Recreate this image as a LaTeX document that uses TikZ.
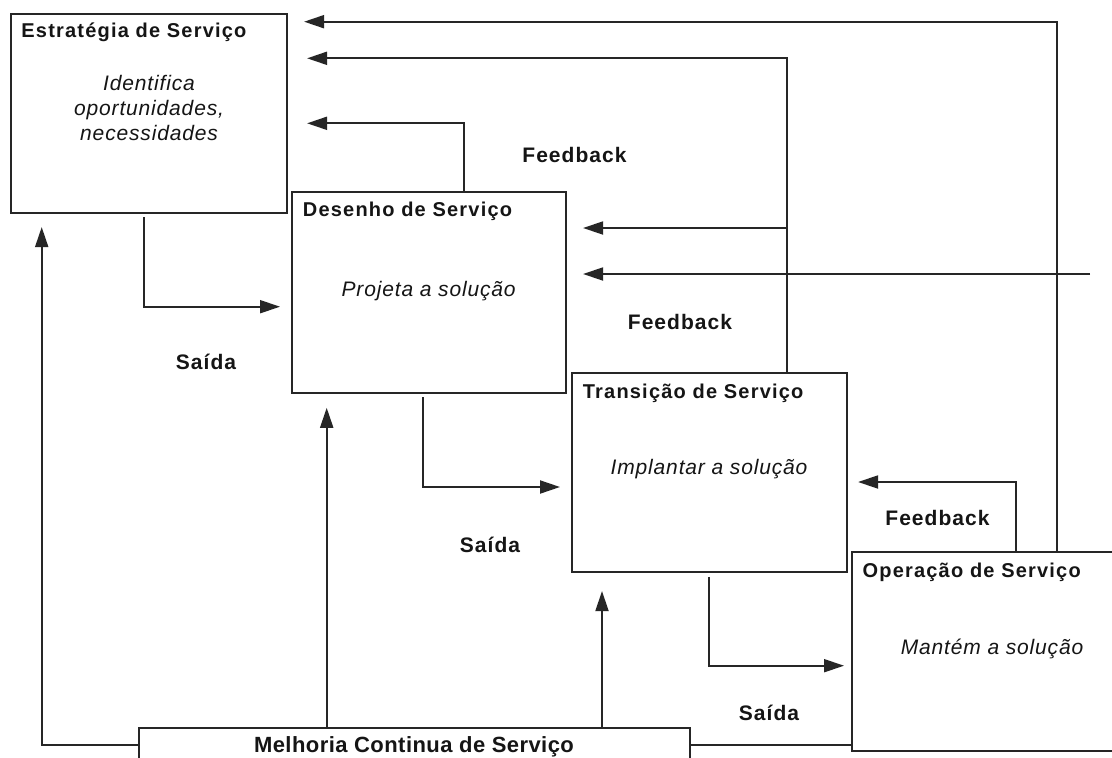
\documentclass[tikz,border=0pt]{standalone}
\usepackage{fontspec}
\setmainfont{Liberation Sans}
\newfontfamily\titlefam{Liberation Sans}[LetterSpace=6]
\newfontfamily\bodyfam{Liberation Sans}[LetterSpace=4]
\newfontfamily\labelfam{Liberation Sans}[LetterSpace=5]
\newfontfamily\improvefam{Liberation Sans}[LetterSpace=2]
\usetikzlibrary{arrows.meta,calc}
\definecolor{ink}{HTML}{262626}
\definecolor{txt}{HTML}{151515}

\begin{document}
\begin{tikzpicture}[x=1pt,y=-1pt,
  line/.style={draw=ink, line width=2pt},
  arr/.style={line, -{Triangle[length=20pt,width=13pt]}},
  box/.style={draw=ink, line width=2.1pt, fill=white, rectangle, inner sep=0pt, anchor=north west},
  boxtitle/.style={anchor=base west, inner sep=0pt, text=txt,
    font=\titlefam\bfseries\fontsize{20}{24}\selectfont},
  boxbody/.style={anchor=base, inner sep=0pt, text=txt,
    font=\bodyfam\itshape\fontsize{21}{25}\selectfont},
  flowlabel/.style={anchor=base, inner sep=0pt, text=txt,
    font=\labelfam\bfseries\fontsize{21}{25}\selectfont}]

\path[use as bounding box, fill=white] (0,0) rectangle (1112,758);
\clip (0,0) rectangle (1112,758);

% process boxes
\node[box, minimum width=276pt,   minimum height=199.3pt] (est) at (10,12.7) {};
\node[box, minimum width=273.8pt, minimum height=200.7pt] (des) at (290.7,191) {};
\node[box, minimum width=275pt,   minimum height=199.3pt] (tra) at (570.5,371.7) {};
\node[box, minimum width=280pt,   minimum height=199.3pt] (ope) at (851,550.7) {};
\node[box, minimum width=551pt,   minimum height=60pt]    (mel) at (138,726.7) {};

% box titles
\node[boxtitle] (est-t) at ($(est.north west)+(11.2,24.5)$) {Estratégia de Serviço};
\node[boxtitle] (des-t) at ($(des.north west)+(12,25.5)$) {Desenho de Serviço};
\node[boxtitle] (tra-t) at ($(tra.north west)+(12.2,26.5)$) {Transição de Serviço};
\node[boxtitle] (ope-t) at ($(ope.north west)+(11.4,26.3)$) {Operação de Serviço};

% box descriptions
\node[boxbody, anchor=north, align=center] (est-b) at ($(est.north)+(0,62)$)
  {Identifica\\oportunidades,\\necessidades};
\node[boxbody] (des-b) at ($(des.center)+(0,3.6)$) {Projeta a solução};
\node[boxbody] (tra-b) at ($(tra.center)+(0,2)$) {Implantar a solução};
\node[boxbody] (ope-b) at ($(ope.center)+(0,3)$) {Mantém a solução};
\node[flowlabel, font=\improvefam\bfseries\fontsize{22}{26}\selectfont] (mel-t) at (414,752.7)
  {Melhoria Continua de Serviço};

% flow labels
\node[flowlabel] (fb1) at (574.5,162.5) {Feedback};
\node[flowlabel] (fb2) at (680,329) {Feedback};
\node[flowlabel] (fb3) at (937.5,525.7) {Feedback};
\node[flowlabel] (sa1) at (206,369.5) {Saída};
\node[flowlabel] (sa2) at (490,552) {Saída};
\node[flowlabel] (sa3) at (769,720) {Saída};

% feedback towards the strategy box
\draw[arr] ($(ope.north west)+(206,0)$)   |- ($(est.north east)+(16,9)$);
\draw[arr] ($(tra.north west)+(216.2,0)$) |- ($(est.north east)+(19,45.6)$);
\draw[arr] ($(des.north west)+(173.3,0)$) |- ($(est.north east)+(19,110.6)$);

% feedback towards the design box
\coordinate (fbEnd) at (1090,274);
\draw[arr] ($(tra.north west)+(216.2,-143.7)$) -- ($(des.north east)+(16.5,37)$);
\draw[arr] (fbEnd) -- ($(des.north east |- fbEnd)+(16.5,0)$);

% feedback towards the transition box
\draw[arr] ($(ope.north west)+(164.5,0)$) |- ($(tra.north east)+(10.5,110.3)$);

% outputs
\draw[arr] ($(est.south west)+(134,3)$)     |- ($(des.north west)+(-10.7,115.7)$);
\draw[arr] ($(des.south west)+(132.6,3.3)$) |- ($(tra.north west)+(-10.5,115.3)$);
\draw[arr] ($(tra.south west)+(138.1,3.7)$) |- ($(ope.north west)+(-7,115)$);

% continual improvement
\draw[arr] ($(mel.north west)+(0,18)$) -| ($(est.south west)+(31.7,13)$);
\draw[arr] ($(mel.north west)+(188.7,0)$) -- ($(des.south west)+(36,14)$);
\draw[arr] ($(mel.north west)+(464,0)$) -- ($(tra.south west)+(31.5,18)$);
\draw[line] ($(mel.north east)+(0,18)$) -- ($(ope.north west)+(0,194)$);
\end{tikzpicture}
\end{document}
